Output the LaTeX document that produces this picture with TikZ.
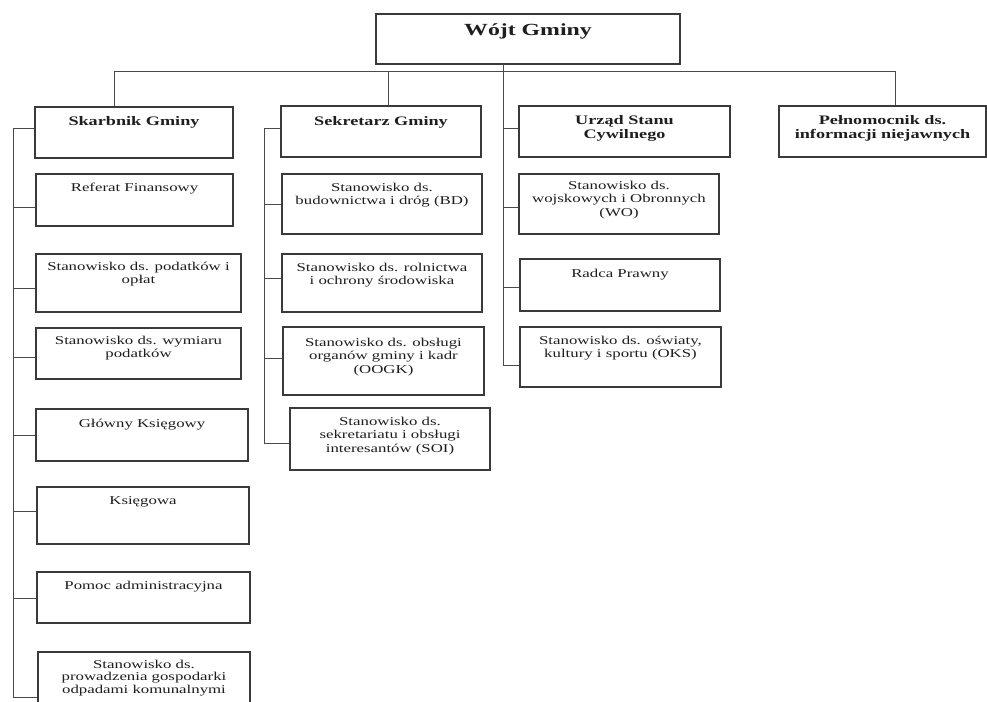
\documentclass[tikz,border=0pt]{standalone}
\usepackage{fontspec}
\setmainfont{Liberation Serif}[FakeStretch=1.4]
\usetikzlibrary{fit}
\definecolor{boxc}{HTML}{3A3A3A}
\definecolor{linec}{HTML}{4A4A4A}
\definecolor{txtc}{HTML}{1E1E1E}
\tikzset{
  box/.style={draw=boxc, line width=1.1pt, inner sep=0pt, rectangle},
  conn/.style={draw=linec, line width=0.9pt},
  txt/.style={text=txtc, align=center, inner sep=0pt, font=\fontsize{12}{13.5}\selectfont},
  btxt/.style={text=txtc, align=center, inner sep=0pt, font=\bfseries\fontsize{13}{14}\selectfont},
  ttxt/.style={text=txtc, align=center, inner sep=0pt, font=\bfseries\fontsize{17}{18}\selectfont},
}
\begin{document}
\begin{tikzpicture}[x=1pt,y=-1pt]
\useasboundingbox (0,0) rectangle (987,701);
\clip (0,0) rectangle (987,701);
\fill[white] (0,0) rectangle (987,701);
% top (anchor=base is the baseline of the last text line)
\node[box, fit={(376,14) (680,64)}] (wojt) {};
\node[ttxt, anchor=base] at (wojt.north |- 0,36) {Wójt Gminy};
% level 1
\node[box, fit={(35,107) (233,158)}] (skb) {};
\node[btxt, anchor=base] at (skb.north |- 0,125) {Skarbnik Gminy};
\node[box, fit={(281,106) (481,157)}] (sek) {};
\node[btxt, anchor=base] at (sek.north |- 0,125) {Sekretarz Gminy};
\node[box, fit={(519,106) (730,157)}] (usc) {};
\node[btxt, anchor=base] at (usc.north |- 0,138) {Urząd Stanu\\Cywilnego};
\node[box, fit={(779,106) (986,157)}] (pel) {};
\node[btxt, anchor=base] at (pel.north |- 0,138) {Pełnomocnik ds.\\informacji niejawnych};
% Skarbnik children
\node[box, fit={(36,174) (233,226)}] (s1) {};
\node[txt, anchor=base] at (s1.north |- 0,191) {Referat Finansowy};
\node[box, fit={(36,254) (241,312)}] (s2) {};
\node[txt, anchor=base] at (s2.north |- 0,283.5) {Stanowisko ds. podatków i\\opłat};
\node[box, fit={(36,328) (241,379)}] (s3) {};
\node[txt, anchor=base] at (s3.north |- 0,357.5) {Stanowisko ds. wymiaru\\podatków};
\node[box, fit={(36,409) (248,461)}] (s4) {};
\node[txt, anchor=base] at (s4.north |- 0,427) {Główny Księgowy};
\node[box, fit={(37,487) (249,544)}] (s5) {};
\node[txt, anchor=base] at (s5.north |- 0,504) {Księgowa};
\node[box, fit={(37,572) (250,623)}] (s6) {};
\node[txt, anchor=base] at (s6.north |- 0,589) {Pomoc administracyjna};
\node[box, fit={(38,652) (250,730)}] (s7) {};
\node[txt, anchor=base, font=\fontsize{12}{12.5}\selectfont] at (s7.north |- 0,693) {Stanowisko ds.\\prowadzenia gospodarki\\odpadami komunalnymi};
% Sekretarz children
\node[box, fit={(282,174) (482,234)}] (k1) {};
\node[txt, anchor=base] at (k1.north |- 0,204.5) {Stanowisko ds.\\budownictwa i dróg (BD)};
\node[box, fit={(282,254) (482,312)}] (k2) {};
\node[txt, anchor=base] at (k2.north |- 0,284.5) {Stanowisko ds. rolnictwa\\i ochrony środowiska};
\node[box, fit={(283,327) (484,395)}] (k3) {};
\node[txt, anchor=base] at (k3.north |- 0,373) {Stanowisko ds. obsługi\\organów gminy i kadr\\(OOGK)};
\node[box, fit={(290,408) (490,470)}] (k4) {};
\node[txt, anchor=base] at (k4.north |- 0,452) {Stanowisko ds.\\sekretariatu i obsługi\\interesantów (SOI)};
% Urzad children
\node[box, fit={(519,174) (719,234)}] (u1) {};
\node[txt, anchor=base] at (u1.north |- 0,216) {Stanowisko ds.\\wojskowych i Obronnych\\(WO)};
\node[box, fit={(520,259) (720,311)}] (u2) {};
\node[txt, anchor=base] at (u2.north |- 0,277) {Radca Prawny};
\node[box, fit={(520,327) (721,387)}] (u3) {};
\node[txt, anchor=base] at (u3.north |- 0,357.5) {Stanowisko ds. oświaty,\\kultury i sportu (OKS)};
% bus
\coordinate (busL) at (114,71);
\coordinate (busS) at (388,71);
\coordinate (busR) at (895,71);
\draw[conn] (busL) -- (busR);
\draw[conn] (busL) -- (busL |- skb.north);
\draw[conn] (busS) -- (busS |- sek.north);
\draw[conn] (busR) -- (busR |- pel.north);
% Wojt spine going down to Urzad children
\coordinate (uTop) at (503,64);
\coordinate (uBot) at (503,365);
\draw[conn] (uTop) -- (uBot);
\foreach \n/\yy in {usc/128, u1/207, u2/287, u3/365} {
  \draw[conn] (503,\yy) -- (\n.west |- 0,\yy);
}
% Skarbnik spine
\coordinate (sTop) at (13,128);
\coordinate (sBot) at (13,697);
\draw[conn] (sTop) -- (sBot);
\foreach \n/\yy in {skb/128, s1/207, s2/288, s3/357, s4/435, s5/511, s6/598, s7/697} {
  \draw[conn] (13,\yy) -- (\n.west |- 0,\yy);
}
% Sekretarz spine
\coordinate (kTop) at (264,128);
\coordinate (kBot) at (264,443);
\draw[conn] (kTop) -- (kBot);
\foreach \n/\yy in {sek/128, k1/204, k2/278, k3/358, k4/443} {
  \draw[conn] (264,\yy) -- (\n.west |- 0,\yy);
}
\end{tikzpicture}
\end{document}
